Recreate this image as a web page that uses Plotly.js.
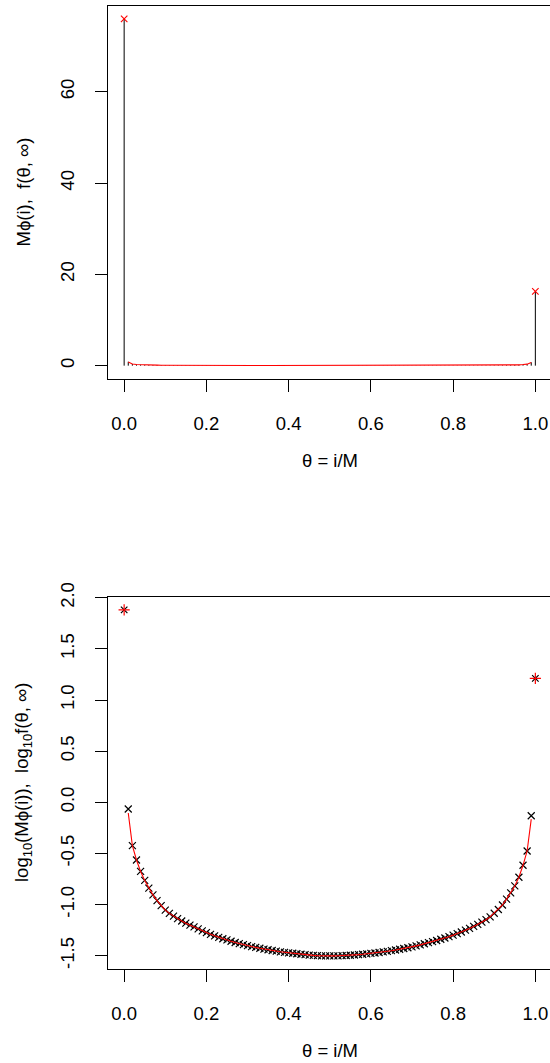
<!DOCTYPE html>
<html>
<head>
<meta charset="utf-8">
<script src="https://cdn.plot.ly/plotly-3.0.1.min.js"></script>
<style>
html, body { margin: 0; padding: 0; overflow: hidden; background: #fff; }
#chart { width: 556px; height: 1063px; }
</style>
</head>
<body>
<div id="chart"></div>
<script>
// ---- data ----
const theta = [0.01,0.02,0.03,0.04,0.05,0.06,0.07,0.08,0.09,0.10,
  0.11,0.12,0.13,0.14,0.15,0.16,0.17,0.18,0.19,0.20,
  0.21,0.22,0.23,0.24,0.25,0.26,0.27,0.28,0.29,0.30,
  0.31,0.32,0.33,0.34,0.35,0.36,0.37,0.38,0.39,0.40,
  0.41,0.42,0.43,0.44,0.45,0.46,0.47,0.48,0.49,0.50,
  0.51,0.52,0.53,0.54,0.55,0.56,0.57,0.58,0.59,0.60,
  0.61,0.62,0.63,0.64,0.65,0.66,0.67,0.68,0.69,0.70,
  0.71,0.72,0.73,0.74,0.75,0.76,0.77,0.78,0.79,0.80,
  0.81,0.82,0.83,0.84,0.85,0.86,0.87,0.88,0.89,0.90,
  0.91,0.92,0.93,0.94,0.95,0.96,0.97,0.98,0.99];

// log10(M*phi(i)) at interior states (black crosses)
const logMphi = [-0.066,-0.424,-0.564,-0.676,-0.764,-0.840,-0.905,-0.962,-1.010,-1.055,
  -1.086,-1.113,-1.138,-1.161,-1.182,-1.201,-1.218,-1.238,-1.257,-1.275,
  -1.291,-1.306,-1.321,-1.334,-1.346,-1.359,-1.371,-1.382,-1.392,-1.402,
  -1.411,-1.419,-1.427,-1.435,-1.442,-1.449,-1.456,-1.462,-1.467,-1.472,
  -1.476,-1.481,-1.486,-1.490,-1.494,-1.497,-1.499,-1.501,-1.502,-1.502,
  -1.502,-1.501,-1.500,-1.498,-1.496,-1.493,-1.490,-1.486,-1.482,-1.478,
  -1.474,-1.469,-1.463,-1.457,-1.451,-1.444,-1.437,-1.430,-1.422,-1.413,
  -1.404,-1.394,-1.383,-1.372,-1.362,-1.351,-1.339,-1.327,-1.314,-1.299,
  -1.284,-1.268,-1.250,-1.233,-1.214,-1.194,-1.172,-1.148,-1.121,-1.085,
  -1.048,-1.004,-0.947,-0.885,-0.818,-0.733,-0.616,-0.476,-0.132];

// log10 f(theta, inf) on the interior (red curve)
const logF = [-0.105,-0.424,-0.564,-0.676,-0.764,-0.840,-0.905,-0.962,-1.010,-1.055,
  -1.086,-1.113,-1.138,-1.161,-1.182,-1.201,-1.218,-1.238,-1.257,-1.275,
  -1.291,-1.306,-1.321,-1.334,-1.346,-1.359,-1.371,-1.382,-1.392,-1.402,
  -1.411,-1.419,-1.427,-1.435,-1.442,-1.449,-1.456,-1.462,-1.467,-1.472,
  -1.476,-1.481,-1.486,-1.490,-1.494,-1.497,-1.499,-1.501,-1.502,-1.502,
  -1.502,-1.501,-1.500,-1.498,-1.496,-1.493,-1.490,-1.486,-1.482,-1.478,
  -1.474,-1.469,-1.463,-1.457,-1.451,-1.444,-1.437,-1.430,-1.422,-1.413,
  -1.404,-1.394,-1.383,-1.372,-1.362,-1.351,-1.339,-1.327,-1.314,-1.299,
  -1.284,-1.268,-1.250,-1.233,-1.214,-1.194,-1.172,-1.148,-1.121,-1.085,
  -1.048,-1.004,-0.947,-0.885,-0.818,-0.733,-0.616,-0.476,-0.165];

// boundary states theta = 0 and theta = 1
const thetaEnds = [0, 1];
const MphiEnds = [76.0, 16.3];   // M*phi(0), M*phi(M)
const fEnds = [76.0, 16.3];      // point masses of f(theta, inf)

// ticks
const xTickVals = [0, 0.2, 0.4, 0.6, 0.8, 1.0];
const xTickText = ["0.0", "0.2", "0.4", "0.6", "0.8", "1.0"];
const yTopTickVals = [0, 20, 40, 60];
const yTopTickText = ["0", "20", "40", "60"];
const yBotTickVals = [-1.5, -1.0, -0.5, 0.0, 0.5, 1.0, 1.5, 2.0];
const yBotTickText = ["-1.5", "-1.0", "-0.5", "0.0", "0.5", "1.0", "1.5", "2.0"];

// ---- derived ----
const Mphi = logMphi.map(v => Math.pow(10, v));
const fLin = logF.map(v => Math.pow(10, v));
const stemX = [], stemY = [];
const allX = thetaEnds.concat(theta);
const allY = MphiEnds.concat(Mphi);
allX.forEach((x, k) => { stemX.push(x, x, null); stemY.push(0, allY[k], null); });

const W = 556, H = 1063;
const FONT = 'Liberation Sans, Arial, Helvetica, sans-serif';
const FS = 18.5;

const traces = [
  // top panel
  {x: stemX, y: stemY, xaxis: 'x', yaxis: 'y', mode: 'lines', type: 'scatter',
   line: {color: '#000', width: 1}, hoverinfo: 'skip'},
  {x: theta, y: fLin, xaxis: 'x', yaxis: 'y', mode: 'lines', type: 'scatter',
   line: {color: '#ff0000', width: 1.1}},
  {x: thetaEnds, y: fEnds, xaxis: 'x', yaxis: 'y', mode: 'markers', type: 'scatter',
   marker: {symbol: 'x-thin-open', size: 6.5, color: '#ff0000', line: {color: '#ff0000', width: 1.1}}},
  // bottom panel
  {x: theta, y: logMphi, xaxis: 'x2', yaxis: 'y2', mode: 'markers', type: 'scatter',
   marker: {symbol: 'x-thin-open', size: 7, color: '#000', line: {color: '#000', width: 1.2}}},
  {x: thetaEnds, y: MphiEnds.map(v => Math.log10(v)), xaxis: 'x2', yaxis: 'y2', mode: 'markers', type: 'scatter',
   marker: {symbol: 'x-thin-open', size: 6.5, color: '#000', line: {color: '#000', width: 1.2}}},
  {x: theta, y: logF, xaxis: 'x2', yaxis: 'y2', mode: 'lines', type: 'scatter',
   line: {color: '#ff0000', width: 1.1}},
  {x: thetaEnds, y: fEnds.map(v => Math.log10(v)), xaxis: 'x2', yaxis: 'y2', mode: 'markers', type: 'scatter',
   marker: {symbol: 'cross-thin-open', size: 8, color: '#ff0000', line: {color: '#ff0000', width: 1.2}}}
];

const xDom = [107.7 / W, 551.8 / W];
function xax(anchor) {
  return {domain: xDom, anchor: anchor, range: [-0.04, 1.04],
    tickmode: 'array', tickvals: xTickVals, ticktext: xTickText,
    ticks: 'outside', ticklen: 11.5, tickwidth: 1, tickcolor: '#000',
    showline: true, mirror: true, linecolor: '#000', linewidth: 1,
    showgrid: false, zeroline: false, ticklabelstandoff: 16,
    tickfont: {family: FONT, size: FS, color: '#000'}};
}
function yax(anchor, dom, rng, tv, tt) {
  return {domain: dom, anchor: anchor, range: rng,
    tickmode: 'array', tickvals: tv, ticktext: tt, tickangle: -90,
    ticks: 'outside', ticklen: 11.5, tickwidth: 1, tickcolor: '#000',
    showline: true, mirror: true, linecolor: '#000', linewidth: 1,
    showgrid: false, zeroline: false, ticklabelstandoff: 14,
    tickfont: {family: FONT, size: FS, color: '#000'}};
}

function ann(text, px, py, angle) {
  return {text: text, xref: 'paper', yref: 'paper', x: px / W, y: 1 - py / H,
    xanchor: 'center', yanchor: 'middle', showarrow: false, textangle: angle || 0,
    font: {family: FONT, size: FS, color: '#000'}};
}

const layout = {
  width: W, height: H, margin: {l: 0, r: 0, t: 0, b: 0},
  paper_bgcolor: '#fff', plot_bgcolor: '#fff', showlegend: false,
  font: {family: FONT, size: FS, color: '#000'},
  xaxis: xax('y'),
  yaxis: yax('x', [1 - 379 / H, 1 - 6 / H], [-2.92, 78.8], yTopTickVals, yTopTickText),
  xaxis2: xax('y2'),
  yaxis2: yax('x2', [1 - 969.3 / H, 1 - 596.7 / H], [-1.633, 2.01], yBotTickVals, yBotTickText),
  annotations: [
    ann('M\u03d5(i),  f(\u03b8, \u221e)', 23, 192.5, -90),
    ann('\u03b8 = i/M', 330, 460),
    ann('log<sub>10</sub>(M\u03d5(i)),  log<sub>10</sub>f(\u03b8, \u221e)', 23, 783, -90),
    ann('\u03b8 = i/M', 330, 1050)
  ]
};

Plotly.newPlot('chart', traces, layout, {staticPlot: true, displayModeBar: false});
</script>
</body>
</html>
